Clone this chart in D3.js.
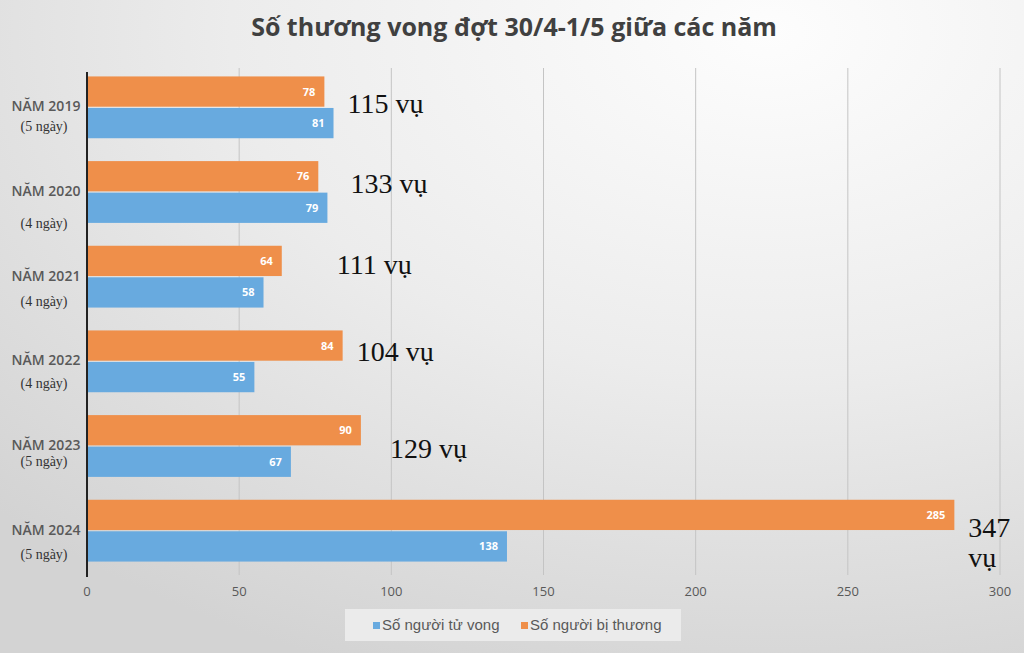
<!DOCTYPE html>
<html>
<head>
<meta charset="utf-8">
<script src="https://cdn.jsdelivr.net/npm/d3@7"></script>
<style>
  body { margin: 0; background: #fff; }
  svg { display: block; }
</style>
</head>
<body>
<div id="chart"></div>
<script>
var years = ["NĂM 2019", "NĂM 2020", "NĂM 2021", "NĂM 2022", "NĂM 2023", "NĂM 2024"],
	days = ["(5 ngày)", "(4 ngày)", "(4 ngày)", "(4 ngày)", "(5 ngày)", "(5 ngày)"],
	injured = [78, 76, 64, 84, 90, 285],
	deaths = [81, 79, 58, 55, 67, 138],
	accidents = [115, 133, 111, 104, 129, 347],
	xTicks = [0, 50, 100, 150, 200, 250, 300];

var orange = '#ef8f4a',
	blue = '#68aadf';

// hand placed "vụ" notes in the original, nudged from the bar end
var noteDx = [14, 23, 55, 14, 29, 14],
	noteDy = [6, 1, -3, 0, 12, 6];
// the "(n ngày)" lines also sit a bit irregularly
var dayDy = [24, 36, 29, 27, 20, 28];

var width = 1024,
	height = 653;

var svg = d3.select("#chart")
	.append("svg")
	.attr("width", width)
	.attr("height", height);

// soft grey background
var defs = svg.append("defs");
var grad = defs.append("radialGradient")
	.attr("id", "bg")
	.attr("cx", "0.75").attr("cy", "0.05").attr("r", "1.05");
grad.append("stop").attr("offset", "0").attr("stop-color", "#fdfdfd");
grad.append("stop").attr("offset", "0.5").attr("stop-color", "#ececec");
grad.append("stop").attr("offset", "1").attr("stop-color", "#d3d3d3");

svg.append("rect")
	.attr("width", width).attr("height", height)
	.attr("fill", "url(#bg)");

svg.append("text")
	.attr("x", 514).attr("y", 36)
	.attr("text-anchor", "middle")
	.attr("font-family", "'Open Sans', sans-serif")
	.attr("font-weight", "bold")
	.attr("font-size", 25)
	.attr("fill", "#404040")
	.text("Số thương vong đợt 30/4-1/5 giữa các năm");

var x = d3.scaleLinear().domain([0, 300]).range([87, 1000]);

var y = d3.scaleBand()
	.domain(years)
	.range([65, 573])
	.paddingInner(0.27)
	.paddingOuter(0.135);

var ySub = d3.scaleBand()
	.domain(["injured", "deaths"])
	.range([0, y.bandwidth()])
	.paddingInner(0.04);

// gridlines
svg.append("g")
	.selectAll("line")
	.data(xTicks.slice(1))
	.enter()
	.append("line")
	.attr("x1", function(d){ return x(d); })
	.attr("x2", function(d){ return x(d); })
	.attr("y1", 68).attr("y2", 575)
	.attr("stroke", "#c4c4c4")
	.attr("stroke-width", 1);

// tick labels
svg.append("g")
	.selectAll("text")
	.data(xTicks)
	.enter()
	.append("text")
	.attr("x", function(d){ return x(d); })
	.attr("y", 596)
	.attr("text-anchor", "middle")
	.attr("font-family", "'Open Sans', sans-serif")
	.attr("font-size", 13)
	.attr("fill", "#595959")
	.text(function(d){ return d; });

var rows = years.map(function(yr, i){
	return { year: yr, day: days[i], injured: injured[i], deaths: deaths[i], acc: accidents[i], i: i };
});

var group = svg.append("g")
	.selectAll("g")
	.data(rows)
	.enter()
	.append("g")
	.attr("transform", function(d){ return "translate(0," + y(d.year) + ")"; });

function bar(key, color){
	group.append("rect")
		.attr("x", x(0))
		.attr("y", ySub(key))
		.attr("width", function(d){ return x(d[key]) - x(0); })
		.attr("height", ySub.bandwidth())
		.attr("fill", color);

	group.append("text")
		.attr("x", function(d){ return x(d[key]) - 9; })
		.attr("y", ySub(key) + ySub.bandwidth() / 2 + 4)
		.attr("text-anchor", "end")
		.attr("font-family", "'Open Sans', sans-serif")
		.attr("font-weight", "bold")
		.attr("font-size", 11)
		.attr("fill", "#ffffff")
		.text(function(d){ return d[key]; });
}
bar("injured", orange);
bar("deaths", blue);

// axis line at zero
svg.append("line")
	.attr("x1", x(0)).attr("x2", x(0))
	.attr("y1", 72).attr("y2", 577)
	.attr("stroke", "#222")
	.attr("stroke-width", 2);

// year labels
group.append("text")
	.attr("x", 46)
	.attr("y", y.bandwidth() / 2 + 4)
	.attr("text-anchor", "middle")
	.attr("font-family", "'Open Sans', sans-serif")
	.attr("font-weight", 600)
	.attr("font-size", 14)
	.attr("fill", "#595959")
	.text(function(d){ return d.year; });

group.append("text")
	.attr("x", 44)
	.attr("y", function(d){ return y.bandwidth() / 2 + dayDy[d.i]; })
	.attr("text-anchor", "middle")
	.attr("font-family", "'Liberation Serif', serif")
	.attr("font-size", 14)
	.attr("fill", "#333")
	.text(function(d){ return d.day; });

// accident count notes
var note = group.append("text")
	.attr("font-family", "'Liberation Serif', serif")
	.attr("font-size", 28)
	.attr("fill", "#111");

note.each(function(d){
	var t = d3.select(this),
		nx = x(Math.max(d.injured, d.deaths)) + noteDx[d.i],
		ny = y.bandwidth() / 2 + noteDy[d.i];
	if (d.i === rows.length - 1) {
		t.append("tspan").attr("x", nx).attr("y", ny).text(d.acc);
		t.append("tspan").attr("x", nx).attr("y", ny + 30).text("vụ");
	} else {
		t.attr("x", nx).attr("y", ny).text(d.acc + " vụ");
	}
});

// legend
var legend = svg.append("g").attr("transform", "translate(345,609)");
legend.append("rect")
	.attr("width", 336).attr("height", 32)
	.attr("fill", "#ebebeb");

var items = [
	{ label: "Số người tử vong", color: blue, x: 28 },
	{ label: "Số người bị thương", color: orange, x: 176 }
];
items.forEach(function(it){
	legend.append("rect")
		.attr("x", it.x).attr("y", 13)
		.attr("width", 7).attr("height", 7)
		.attr("fill", it.color);
	legend.append("text")
		.attr("x", it.x + 9).attr("y", 21)
		.attr("font-family", "'Liberation Sans', Arial, sans-serif")
		.attr("font-size", 15)
		.attr("fill", "#595959")
		.text(it.label);
});
</script>
</body>
</html>
